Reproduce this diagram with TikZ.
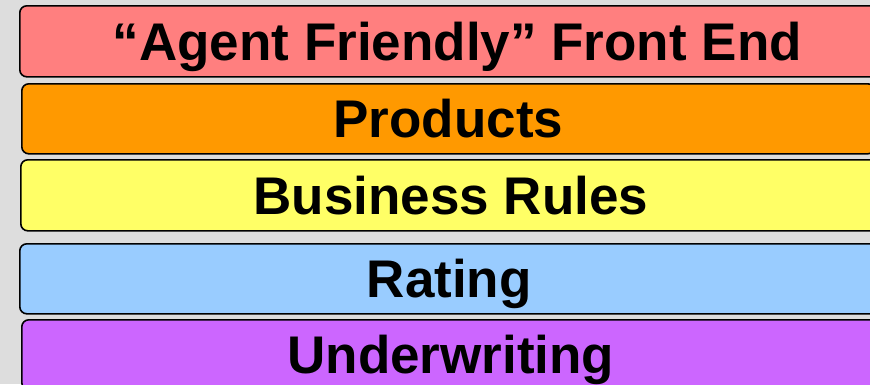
\documentclass[tikz,border=0pt]{standalone}
\usepackage{fontspec}
\setmainfont{Liberation Sans}
\definecolor{bggray}{HTML}{DDDDDD}
\definecolor{frontpink}{HTML}{FF7F7F}
\definecolor{prodorange}{HTML}{FF9900}
\definecolor{rulesyellow}{HTML}{FFFF66}
\definecolor{rateblue}{HTML}{99CCFF}
\definecolor{uwpurple}{HTML}{CC66FF}
\tikzset{
  layer/.style = {draw, color = black, fill = #1, line width = 1.6pt,
                  rounded corners = 7pt, anchor = north west, inner sep = 0,
                  minimum width = 860pt, minimum height = 70pt,
                  text height = 38pt, text depth = 0pt,
                  font = \fontsize{53}{60}\selectfont\bfseries},
  layer/.default = white,
}

\begin{document}
\begin{tikzpicture}[x=1pt,y=-1pt]
\useasboundingbox (0,0) rectangle (870,384);
\fill[bggray] (0,0) rectangle (870,384);
\clip (0,0) rectangle (870,384);
\node[layer=frontpink, minimum height=71pt, minimum width=875pt] (fe) at (19,5) {“Agent Friendly” Front End};
\node[layer=prodorange, minimum width=853pt] (prod) at (21,83) {Products};
\node[layer=rulesyellow, minimum height=71pt] (rules) at (20,159) {Business Rules};
\node[layer=rateblue, minimum width=859pt] (rate) at (19,243) {Rating};
\node[layer=uwpurple, minimum width=858pt] (uw) at (21,319) {Underwriting};
\end{tikzpicture}
\end{document}
